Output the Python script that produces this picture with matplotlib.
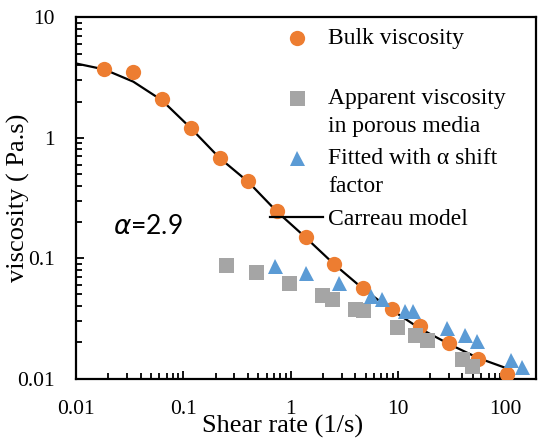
import numpy as np
import matplotlib
matplotlib.use('Agg')
import matplotlib.pyplot as plt
from matplotlib.legend_handler import HandlerLine2D

plt.rcParams['font.family'] = ['Liberation Serif', 'DejaVu Serif']

# bulk viscosity (orange circles)
bulk_rate = [0.0184, 0.0342, 0.0633, 0.118, 0.218, 0.404, 0.742, 1.39, 2.55,
             4.70, 8.81, 16.1, 30.1, 56.1, 105]
bulk_visc = [3.72, 3.53, 2.09, 1.20, 0.676, 0.438, 0.247, 0.150, 0.0902,
             0.057, 0.0376, 0.0273, 0.0196, 0.0144, 0.0108]

# apparent viscosity in porous media (grey squares)
app_rate = [0.25, 0.477, 0.966, 1.95, 2.46, 4.03, 4.73, 9.86, 14.4, 18.5, 39.3, 49.3]
app_visc = [0.0873, 0.0768, 0.0627, 0.0498, 0.0461, 0.0376, 0.0369, 0.0268,
            0.0231, 0.0208, 0.0145, 0.0126]

# fitted with alpha shift factor (blue triangles)
fit_rate = [0.723, 1.39, 2.84, 5.65, 7.06, 11.7, 13.8, 28.7, 42.6, 54.2, 114, 144]
fit_visc = [0.0861, 0.0759, 0.0617, 0.0485, 0.0455, 0.0367, 0.0364, 0.0265,
            0.0228, 0.0205, 0.0142, 0.0124]

# Carreau model (black line)
model_rate = [0.01, 0.0184, 0.0342, 0.0633, 0.118, 0.218, 0.404, 0.742, 1.39,
              2.55, 4.70, 8.81, 16.1, 30.1, 56.1, 105]
model_visc = [4.15, 3.7, 2.93, 2.05, 1.2, 0.68, 0.43, 0.245, 0.148, 0.089,
              0.056, 0.037, 0.026, 0.0193, 0.0148, 0.0121]

xticks = [0.01, 0.1, 1, 10, 100]
xtick_labels = ['0.01', '0.1', '1', '10', '100']
yticks = [0.01, 0.1, 1, 10]
ytick_labels = ['0.01', '0.1', '1', '10']

orange = '#ED7D31'
grey = '#A5A5A5'
blue = '#5B9BD5'


class FirstLineHandler(HandlerLine2D):
    # move the legend key up so it sits next to the first text line
    def __init__(self, shift=0.0, **kw):
        super().__init__(**kw)
        self.shift = shift

    def create_artists(self, legend, orig_handle, xdescent, ydescent,
                       width, height, fontsize, trans):
        artists = super().create_artists(legend, orig_handle, xdescent, ydescent,
                                         width, height, fontsize, trans)
        for a in artists:
            a.set_ydata(np.asarray(a.get_ydata()) + self.shift)
        return artists


fig = plt.figure(figsize=(5.4, 4.44), dpi=100)
ax = fig.add_axes([0.1407, 0.1475, 0.8519, 0.8131])

line, = ax.plot(model_rate, model_visc, color='black', lw=1.6, zorder=2)
c, = ax.plot(bulk_rate, bulk_visc, 'o', color=orange, ms=11, mew=0, zorder=3)
s, = ax.plot(app_rate, app_visc, 's', color=grey, ms=10.8, mew=0, zorder=4)
t, = ax.plot(fit_rate, fit_visc, '^', color=blue, ms=10.8, mew=0, zorder=5)

ax.set_xscale('log')
ax.set_yscale('log')
ax.set_xlim(0.01, 194)
ax.set_ylim(0.01, 10)
ax.set_xticks(xticks)
ax.set_xticklabels(xtick_labels)
ax.set_yticks(yticks)
ax.set_yticklabels(ytick_labels)
ax.tick_params(which='both', direction='in', top=False, right=False,
               labelsize=15.5, pad=15.5, width=1.3)
ax.tick_params(which='major', length=6)
ax.tick_params(which='minor', length=4.5)
for sp in ax.spines.values():
    sp.set_linewidth(1.6)

ax.set_xlabel('Shear rate (1/s)', fontsize=19)
ax.xaxis.set_label_coords(0.45, -0.101)
ax.set_ylabel('viscosity ( Pa.s)', fontsize=19)
ax.yaxis.set_label_coords(-0.1007, 0.5)

ax.text(0.0804, 0.400, r'$\alpha$=2.9', transform=ax.transAxes, fontsize=19,
        family=['Lato', 'DejaVu Sans'], va='baseline', ha='left')

line_gap = 28.5  # px between lines of a legend entry
shift = 0.5 * line_gap * 72 / fig.dpi
leg = ax.legend([c, s, t, line],
                ['Bulk viscosity\n ', 'Apparent viscosity\nin porous media',
                 'Fitted with \u03b1 shift\nfactor', 'Carreau model'],
                handler_map={c: FirstLineHandler(shift), s: FirstLineHandler(shift),
                             t: FirstLineHandler(shift), line: FirstLineHandler(0)},
                loc='upper left', bbox_to_anchor=(0.4217, 0.972), frameon=False,
                fontsize=17, numpoints=1, handlelength=2.25, handletextpad=0.2,
                borderpad=0, borderaxespad=0, labelspacing=0.47)
for txt in leg.get_texts():
    txt.set_linespacing(1.45)

fig.savefig('out.png', dpi=100)
